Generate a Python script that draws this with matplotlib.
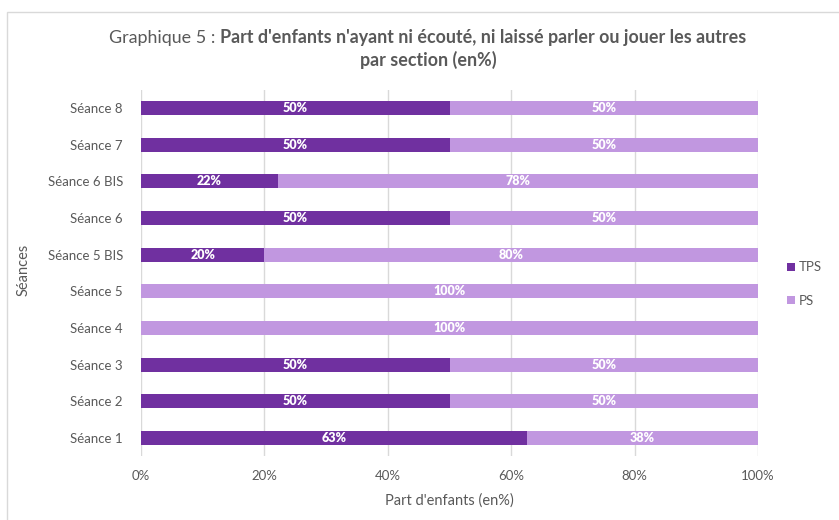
import matplotlib
matplotlib.use("Agg")
import matplotlib.pyplot as plt
from matplotlib.patches import Rectangle

plt.rcParams['font.family'] = ['Lato', 'DejaVu Sans']

seances = ['Séance 1', 'Séance 2', 'Séance 3', 'Séance 4', 'Séance 5',
           'Séance 5 BIS', 'Séance 6', 'Séance 6 BIS', 'Séance 7', 'Séance 8']
tps = [62.5, 50, 50, 0, 0, 20, 50, 22.2, 50, 50]
ps = [37.5, 50, 50, 100, 100, 80, 50, 77.8, 50, 50]

c_tps = '#7030A0'
c_ps = '#C197E0'
grey = '#595959'

fig = plt.figure(figsize=(8.39, 5.2), dpi=100)
ax = fig.add_axes([141 / 839, 0.1225, 617 / 839, 0.705])

# light frame around the chart (only top and left visible, like the crop)
fig.patches.append(Rectangle((7 / 839, -0.1), 1.2, 1.1 - 12 / 520, transform=fig.transFigure,
                             fill=False, edgecolor='#d9d9d9', linewidth=1))

y = range(len(seances))
ax.barh(y, tps, height=0.38, color=c_tps, label='TPS', zorder=3)
ax.barh(y, ps, left=tps, height=0.38, color=c_ps, label='PS', zorder=3)


def pct(v):
    return f'{int(v + 0.5)}%'


for i in y:
    if tps[i] > 0:
        ax.text(tps[i] / 2, i, pct(tps[i]), ha='center', va='center',
                color='white', fontsize=9, fontweight='heavy', zorder=4)
    if ps[i] > 0:
        ax.text(tps[i] + ps[i] / 2, i, pct(ps[i]), ha='center', va='center',
                color='white', fontsize=9, fontweight='heavy', zorder=4)

ax.set_xlim(0, 100)
ax.set_ylim(-0.5, len(seances) - 0.5)
ax.set_yticks(list(y))
ax.set_yticklabels(seances)
ax.set_xticks([0, 20, 40, 60, 80, 100])
ax.set_xticklabels(['0%', '20%', '40%', '60%', '80%', '100%'])
ax.tick_params(length=0, colors=grey, labelsize=9.5)
ax.tick_params(axis='x', pad=10)
ax.tick_params(axis='y', pad=13)
ax.grid(axis='x', color='#d9d9d9', linewidth=1, zorder=0)
for s in ax.spines.values():
    s.set_visible(False)

ax.set_xlabel("Part d'enfants (en%)", color=grey, fontsize=10.5, labelpad=8)
fig.text(24 / 839, 1 - 270 / 520, 'Séances', rotation=90, ha='center', va='center',
         color=grey, fontsize=10.5)

ax.legend(loc='center left', bbox_to_anchor=(775 / 839, 1 - 284 / 520),
          bbox_transform=fig.transFigure, frameon=False, handlelength=0.6,
          handleheight=0.6, labelspacing=1.6, handletextpad=0.3, fontsize=9.5,
          labelcolor=grey)

# title: first part regular, rest bold
fig.canvas.draw()
r = fig.canvas.get_renderer()
t1 = fig.text(0, 1 - 38 / 520, 'Graphique 5 : ', fontsize=12.9, color=grey, va='center')
t2 = fig.text(0, 1 - 38 / 520, "Part d'enfants n'ayant ni écouté, ni laissé parler ou jouer les autres",
              fontsize=12.9, color=grey, fontweight='bold', va='center')
w1 = t1.get_window_extent(r).width
w2 = t2.get_window_extent(r).width
x0 = 428 - (w1 + w2) / 2
t1.set_x(x0 / 839)
t2.set_x((x0 + w1) / 839)
fig.text(428 / 839, 1 - 60 / 520, 'par section (en%)', fontsize=12.9, color=grey,
         fontweight='bold', ha='center', va='center')

fig.savefig('out.png', dpi=100)
